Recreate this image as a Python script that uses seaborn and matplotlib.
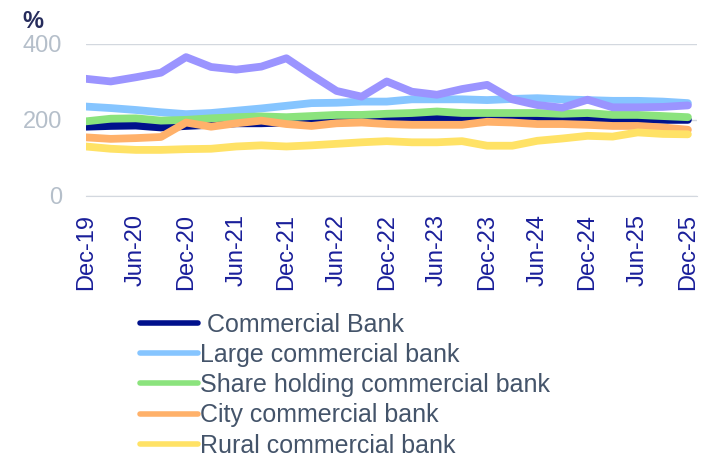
import pandas as pd
import matplotlib
matplotlib.use('Agg')
import matplotlib.pyplot as plt
import seaborn as sns
from matplotlib.lines import Line2D

# quarterly provision coverage ratio, %
quarters = ['Dec-19', 'Mar-20', 'Jun-20', 'Sep-20', 'Dec-20', 'Mar-21', 'Jun-21', 'Sep-21',
            'Dec-21', 'Mar-22', 'Jun-22', 'Sep-22', 'Dec-22', 'Mar-23', 'Jun-23', 'Sep-23',
            'Dec-23', 'Mar-24', 'Jun-24', 'Sep-24', 'Dec-24', 'Mar-25', 'Jun-25', 'Sep-25',
            'Dec-25']

commercial = [182, 184, 185, 180, 184, 187, 191, 191, 193, 196, 199, 207, 204, 202, 207,
              204, 204, 204, 204, 204, 204, 202, 202, 200, 200]
large = [235, 231, 226, 220, 215, 218, 224, 230, 237, 244, 245, 248, 248, 254, 254,
         254, 252, 255, 257, 254, 252, 250, 250, 248, 244]
share_holding = [196, 203, 204, 198, 200, 204, 207, 209, 207, 210, 213, 213, 216, 218, 222,
                 218, 218, 218, 218, 216, 218, 213, 213, 210, 207]
city = [154, 150, 152, 155, 193, 182, 191, 198, 189, 184, 191, 193, 189, 187, 187,
        187, 195, 193, 189, 189, 187, 184, 184, 180, 174]
rural = [130, 124, 121, 121, 123, 124, 130, 133, 130, 133, 137, 141, 144, 141, 141,
         144, 132, 132, 145, 151, 158, 156, 167, 163, 162]
foreign = [308, 301, 312, 324, 365, 339, 332, 340, 362, 318, 276, 261, 301, 274, 266,
           281, 292, 254, 239, 232, 253, 233, 233, 234, 238]

series = {
    ' Commercial Bank': commercial,
    'Large commercial bank': large,
    'Share holding commercial bank': share_holding,
    'City commercial bank': city,
    'Rural commercial bank': rural,
    'Foreign bank': foreign,
}
colors = ['#00118c', '#86c5ff', '#8be37d', '#ffb16a', '#ffe266', '#9b94ff']

rows = []
for name, vals in series.items():
    for i, v in enumerate(vals):
        rows.append({'idx': i, 'value': v, 'bank': name})
df = pd.DataFrame(rows)

sns.set_style('white')
plt.rcParams['font.family'] = ['Liberation Sans', 'DejaVu Sans']

fig = plt.figure(figsize=(7.08, 4.61), dpi=100)
ax = fig.add_axes([0.121, 0.575, 0.863, 0.330])

sns.lineplot(data=df, x='idx', y='value', hue='bank', palette=colors, linewidth=5.6,
             legend=False, ax=ax, solid_capstyle='round', solid_joinstyle='round')

ax.set_xlim(0, 24.35)
ax.set_ylim(0, 400)
ax.set_yticks([0, 200, 400])
ax.set_xticks(range(0, len(quarters), 2))
ax.set_xticklabels(quarters[::2], rotation=90)
ax.set_xlabel('')
ax.set_ylabel('')
ax.yaxis.grid(True, color='#d3d8df', linewidth=1)
ax.set_axisbelow(True)

for s in ['top', 'right', 'left']:
    ax.spines[s].set_visible(False)
ax.spines['bottom'].set_color('#d3d8df')
ax.tick_params(axis='y', length=0, pad=17, labelsize=17, labelcolor='#b5bfca')
ax.tick_params(axis='x', length=5, width=1, color='#d3d8df', pad=8, labelsize=17,
               labelcolor='#1a1f9a')

fig.text(0.031, 0.978, '%', fontsize=17, fontweight='bold', color='#262c5c', va='top')

# legend: only the first five series
handles = [Line2D([0], [0], color=c, lw=4, solid_capstyle='round') for c in colors[:5]]
labels = list(series.keys())[:5]
fig.legend(handles, labels, loc='upper left', bbox_to_anchor=(0.198, 0.322), frameon=False,
           fontsize=18, handlelength=2.3, handletextpad=0.1, labelspacing=0.25,
           borderpad=0, borderaxespad=0, labelcolor='#44546a')

fig.savefig('out.png', dpi=100)
